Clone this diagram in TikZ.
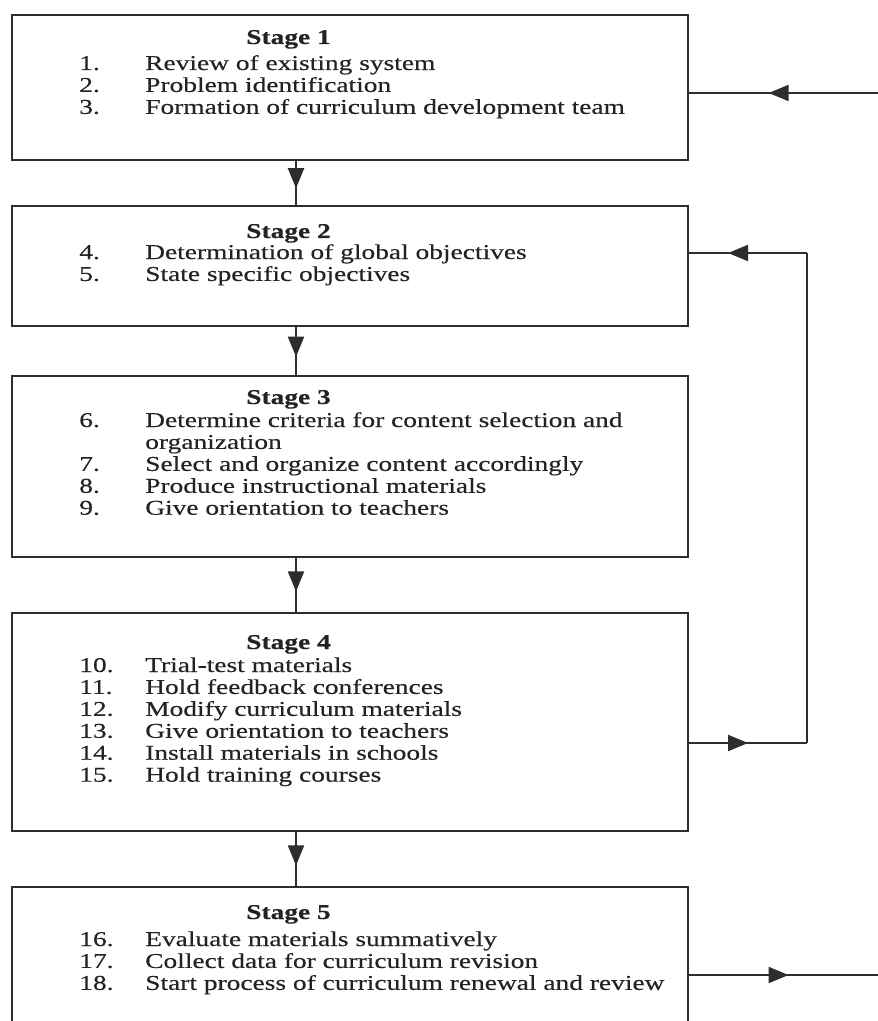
\documentclass[tikz,border=0pt]{standalone}
\usepackage{fontspec}
\setmainfont{Liberation Serif}[FakeStretch=1.3, FakeBold=0.35]
\usepackage{xcolor}
\definecolor{scan_ink}{RGB}{45, 45, 45}
\definecolor{scan_text}{RGB}{35, 35, 35}
\usepackage{tikz}
\usetikzlibrary{arrows.meta, positioning, decorations.markings}

\begin{document}
\begin{tikzpicture}[
        box/.style={rectangle, draw=scan_ink, line width=1.6pt,
                    minimum width=16.9cm, inner sep=0pt},
        stage/.style={anchor=base west, inner sep=0pt, text=scan_text,
                      font=\fontsize{15}{15.6}\selectfont\bfseries},
        items/.style={anchor=base west, inner sep=0pt, text=scan_text,
                      font=\fontsize{15}{15.6}\selectfont},
        flow/.style={draw=scan_ink, line width=1.4pt,
                     decoration={markings, mark=at position #1 with
                       {\arrow{Triangle[length=5mm, width=4mm]}}},
                     postaction={decorate}},
        flow/.default=0.5,
        line/.style={draw=scan_ink, line width=1.4pt},
      ]
        \useasboundingbox (0,0) rectangle (21.95,-25.525);

        \foreach \i/\y/\h in {1/-2.1875/3.625, 2/-6.65/3.0, 3/-11.6625/4.525,
                              4/-18.05/5.45, 5/-24.3375/4.325}
          \node[box, minimum height=\h cm] (b\i) at (8.75, \y) {};

        \foreach \i/\y in {1/-1.1, 2/-5.95, 3/-10.1, 4/-16.225, 5/-22.975}
          \node[stage] (s\i) at (6.15, \y) {Stage \i};

        \node[items] (l1) at (1.975, -1.75) {\begin{tabular}[t]{@{}p{1.65cm}@{}l@{}}
          1. & Review of existing system\\
          2. & Problem identification\\
          3. & Formation of curriculum development team
        \end{tabular}};
        \node[items] (l2) at (1.975, -6.475) {\begin{tabular}[t]{@{}p{1.65cm}@{}l@{}}
          4. & Determination of global objectives\\
          5. & State specific objectives
        \end{tabular}};
        \node[items] (l3) at (1.975, -10.675) {\begin{tabular}[t]{@{}p{1.65cm}@{}l@{}}
          6. & Determine criteria for content selection and\\
             & organization\\
          7. & Select and organize content accordingly\\
          8. & Produce instructional materials\\
          9. & Give orientation to teachers
        \end{tabular}};
        \node[items] (l4) at (1.975, -16.8) {\begin{tabular}[t]{@{}p{1.65cm}@{}l@{}}
          10. & Trial-test materials\\
          11. & Hold feedback conferences\\
          12. & Modify curriculum materials\\
          13. & Give orientation to teachers\\
          14. & Install materials in schools\\
          15. & Hold training courses
        \end{tabular}};
        \node[items] (l5) at (1.975, -23.65) {\begin{tabular}[t]{@{}p{1.65cm}@{}l@{}}
          16. & Evaluate materials summatively\\
          17. & Collect data for curriculum revision\\
          18. & Start process of curriculum renewal and review
        \end{tabular}};

        % stage to stage
        \foreach \s/\t in {1/2, 2/3, 3/4, 4/5}
          \draw[flow=0.62] ([xshift=-1.35cm]b\s.south) -- ([xshift=-1.35cm]b\t.north);

        % feedback lines on the right
        \coordinate (in1) at (22.2, -2.325);
        \coordinate (lp4) at (20.175, -18.575);
        \coordinate (lp2) at (20.175, -6.325);
        \coordinate (out5) at (22.2, -24.375);

        \draw[flow=0.6] (in1) -- (b1.east |- in1);
        \draw[flow=0.5] (b4.east |- lp4) -- (lp4);
        \draw[line] (lp4) -- (lp2);
        \draw[flow=0.67] (lp2) -- (b2.east |- lp2);
        \draw[flow=0.5] (b5.east |- out5) -- (out5);
      \end{tikzpicture}
\end{document}
